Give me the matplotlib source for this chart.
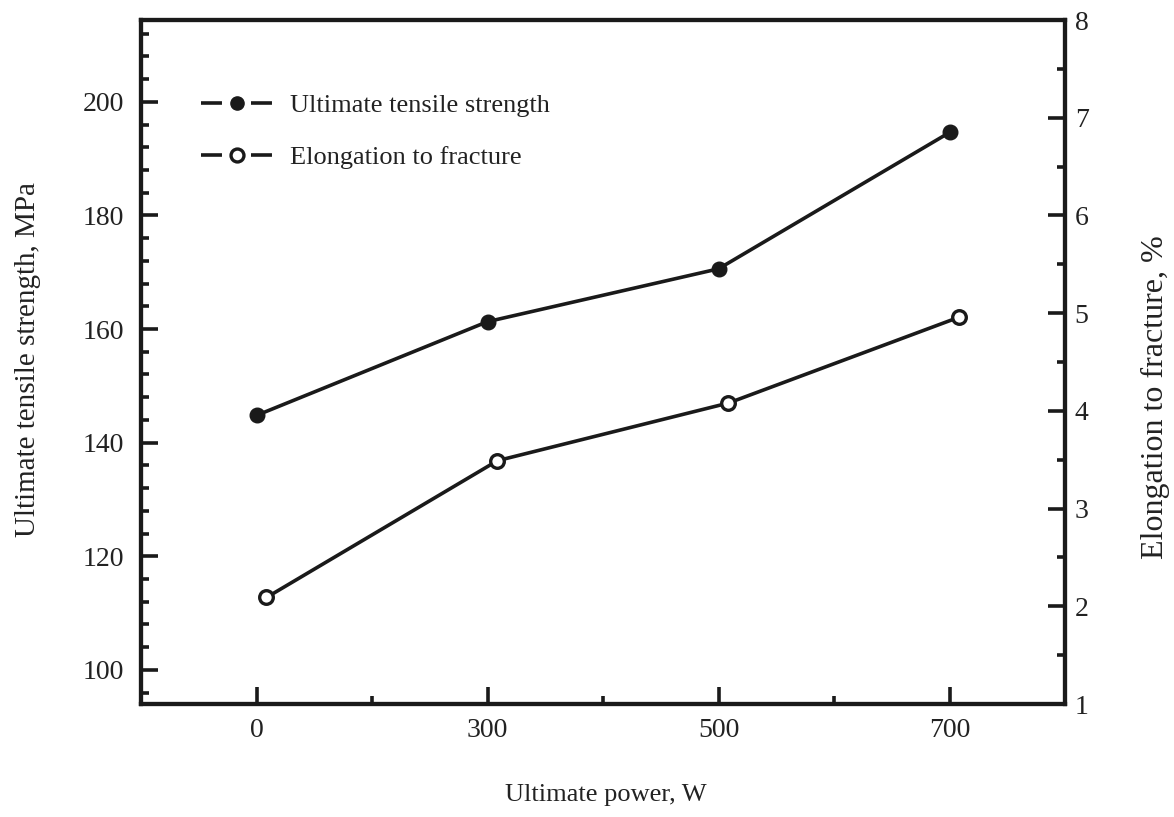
import numpy as np
import matplotlib
matplotlib.use("Agg")
import matplotlib.pyplot as plt
from matplotlib.lines import Line2D
from matplotlib.ticker import FixedLocator, MultipleLocator

# Laser power levels and measured properties
power_labels = ["0", "300", "500", "700"]
tensile_strength = [144.8, 161.3, 170.6, 194.6]      # MPa
elongation = [2.09, 3.49, 4.08, 4.96]                # %

plt.rcParams["font.family"] = ["Liberation Serif", "DejaVu Serif"]
plt.rcParams["lines.scale_dashes"] = False

INK = "#1a1a1a"
TEXT = "#222222"
FS_TICK = 20
FS_LEG = 19

fig = plt.figure(figsize=(11.74, 8.17), dpi=100)
ax = fig.add_axes([141 / 1174, 1 - 704 / 817, 924 / 1174, 684 / 817])
ax2 = ax.twinx()

pos = np.arange(len(power_labels))
shift = 0.043  # open markers sit slightly to the right of each tick

line_kw = dict(color=INK, lw=2.6, solid_capstyle="round")
ax.plot(pos, tensile_strength, marker="o", ms=10.5, mfc=INK, mec=INK, mew=1,
        **line_kw, zorder=3)
ax2.plot(pos + shift, elongation, marker="o", ms=9.8, mfc="white", mec=INK, mew=2.4,
         **line_kw, zorder=3)

ax.set_xlim(-0.5, 3.5)
ax.set_ylim(94, 214.4)
ax2.set_ylim(1, 8)

# Spines
for a in (ax, ax2):
    for s in a.spines.values():
        s.set_linewidth(3.0)
        s.set_color(INK)

# X ticks
ax.set_xticks(pos)
ax.set_xticklabels(power_labels)
ax.xaxis.set_minor_locator(FixedLocator([0.5, 1.5, 2.5]))

# Left ticks
ax.set_yticks(np.arange(100, 201, 20))
ax.yaxis.set_minor_locator(MultipleLocator(4))

# Right ticks
ax2.set_yticks(np.arange(1, 9, 1))
ax2.yaxis.set_minor_locator(MultipleLocator(0.5))

ax.tick_params(axis="x", which="both", direction="in", top=False, colors=INK,
               labelcolor=TEXT, labelsize=FS_TICK, pad=10)
ax.tick_params(axis="x", which="major", length=12, width=2.6)
ax.tick_params(axis="x", which="minor", length=5.5, width=2.6)
ax.tick_params(axis="y", which="both", direction="in", right=False, colors=INK,
               labelcolor=TEXT, labelsize=FS_TICK, pad=12)
ax.tick_params(axis="y", which="major", length=12, width=2.6)
ax.tick_params(axis="y", which="minor", length=5.5, width=2.6)
ax2.tick_params(axis="y", which="both", direction="in", colors=INK,
                labelcolor=TEXT, labelsize=FS_TICK, pad=7)
ax2.tick_params(axis="y", which="major", length=12, width=2.6)
ax2.tick_params(axis="y", which="minor", length=5.5, width=2.6)

# Axis labels
ax.set_xlabel("Ultimate power, W", fontsize=19, color=TEXT)
ax.xaxis.set_label_coords(0.503, -0.117)
ax.set_ylabel("Ultimate tensile strength, MPa", fontsize=21, color=TEXT)
ax.yaxis.set_label_coords(-0.108, 0.503)
ax2.set_ylabel("Elongation to fracture, %", fontsize=23, color=TEXT)
ax2.yaxis.set_label_coords(1.082, 0.449)

# Legend with broken handle lines around the markers
dash = (15.1, 20.9)
h_uts = Line2D([], [], color=INK, lw=2.6, dashes=dash, marker="o", ms=9.5,
               mfc=INK, mec=INK, mew=1)
h_el = Line2D([], [], color=INK, lw=2.6, dashes=dash, marker="o", ms=9.3,
              mfc="white", mec=INK, mew=2.4)
ax2.legend([h_uts, h_el], ["Ultimate tensile strength", "Elongation to fracture"],
           loc="upper left", bbox_to_anchor=(0.065, 0.892), frameon=False,
           borderaxespad=0, borderpad=0, handlelength=2.73, handletextpad=0.65,
           labelspacing=1.08, fontsize=FS_LEG, labelcolor=TEXT)

fig.savefig("out.png", dpi=100, facecolor="white")
